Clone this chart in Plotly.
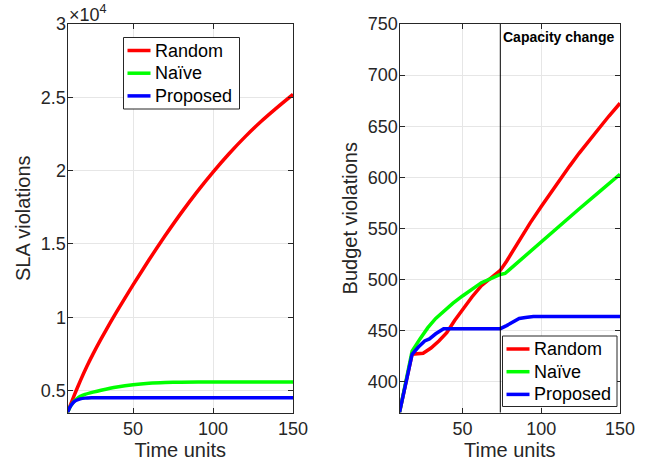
import plotly.graph_objects as go

# ---------------- data ----------------
series_names = ["Random", "Naïve", "Proposed"]
series_colors = ["#ff0000", "#00ff00", "#0000ff"]

# Left: SLA violations
sla_random_x = [9, 13, 17, 21, 25, 30, 36, 43, 50, 60, 70, 80, 90, 100, 110, 120, 130, 140, 150]
sla_random_y = [3500, 4620, 5660, 6620, 7500, 8520, 9680, 10960, 12200, 13920, 15550, 17100,
                18550, 19900, 21150, 22300, 23350, 24300, 25200]
sla_naive_x = [9, 11, 13, 15, 17, 20, 25, 30, 40, 50, 60, 70, 80, 100, 150]
sla_naive_y = [3500, 3950, 4250, 4450, 4600, 4740, 4890, 5020, 5240, 5400, 5500, 5550, 5570, 5580, 5580]
sla_prop_x = [9, 10, 11, 12, 13, 15, 17, 20, 24, 30, 150]
sla_prop_y = [3500, 3750, 3950, 4100, 4220, 4350, 4430, 4480, 4505, 4510, 4510]

# Right: Budget violations
bud_random_x = [10, 18, 25, 30, 35, 40, 45, 50, 56, 62, 68, 74, 78, 82, 87, 93, 100, 106, 112,
                118, 124, 130, 137, 143, 150]
bud_random_y = [370, 427, 428, 433, 440, 448, 460, 471, 483, 494, 502, 509, 518, 528, 541, 555.5,
                571.5, 585, 598, 611, 623.5, 635.5, 648.5, 660, 672.5]
bud_naive_x = [10, 18, 23, 28, 33, 38, 44, 50, 56, 62, 68, 74, 77, 88, 100, 112, 124, 137, 150]
bud_naive_y = [370, 430, 442, 453, 462, 469, 477, 484, 491, 497, 501, 505, 506, 521, 537, 553,
               569, 586, 603]
bud_prop_x = [10, 18, 22, 26, 29, 33, 38, 74, 78, 82, 86, 90, 95, 150]
bud_prop_y = [370, 427, 434, 440, 442, 447, 452, 452, 455, 459, 462, 463, 464, 464]

capacity_change_x = 74

x_ticks = [50, 100, 150]
sla_ticks = [5000, 10000, 15000, 20000, 25000, 30000]
sla_ticktext = ["0.5", "1", "1.5", "2", "2.5", "3"]
bud_ticks = [400, 450, 500, 550, 600, 650, 700, 750]

# ---------------- figure ----------------
W, H = 652, 467
FONT = "Liberation Sans, Arial, Helvetica, sans-serif"
AX = "#262626"

fig = go.Figure()

left = [(sla_random_x, sla_random_y), (sla_naive_x, sla_naive_y), (sla_prop_x, sla_prop_y)]
right = [(bud_random_x, bud_random_y), (bud_naive_x, bud_naive_y), (bud_prop_x, bud_prop_y)]

for (xs, ys), name, col in zip(left, series_names, series_colors):
    fig.add_trace(go.Scatter(x=xs, y=ys, mode="lines", name=name,
                             line=dict(color=col, width=3.5, shape="spline", smoothing=0.6),
                             xaxis="x", yaxis="y", showlegend=False))
for (xs, ys), name, col in zip(right, series_names, series_colors):
    fig.add_trace(go.Scatter(x=xs, y=ys, mode="lines", name=name,
                             line=dict(color=col, width=3.5),
                             xaxis="x2", yaxis="y2", showlegend=False))


def px(v):
    return v / W


def py(v):
    return 1 - v / H


axis_common = dict(
    showline=True, linecolor=AX, linewidth=1, mirror="ticks",
    ticks="inside", ticklen=5, tickcolor=AX, tickwidth=1,
    showgrid=True, gridcolor="#e6e6e6", gridwidth=1,
    zeroline=False, automargin=False,
    tickfont=dict(family=FONT, size=18, color=AX),
)

fig.update_layout(
    width=W, height=H,
    margin=dict(l=0, r=0, t=0, b=0),
    paper_bgcolor="white", plot_bgcolor="white",
    font=dict(family=FONT, color=AX),
    showlegend=False,
    xaxis=dict(domain=[px(67.5), px(293)], range=[9, 150], tickvals=x_ticks,
               title=dict(text="Time units", font=dict(size=20, color=AX), standoff=4),
               anchor="y", **axis_common),
    yaxis=dict(domain=[py(412.5), py(24)], range=[3500, 30000], tickvals=sla_ticks,
               ticktext=sla_ticktext, ticklabelstandoff=-3,
               title=dict(text="SLA violations", font=dict(size=20, color=AX), standoff=4),
               anchor="x", **axis_common),
    xaxis2=dict(domain=[px(399.5), px(620)], range=[10, 150], tickvals=x_ticks,
                title=dict(text="Time units", font=dict(size=20, color=AX), standoff=4),
                anchor="y2", **axis_common),
    yaxis2=dict(domain=[py(412.5), py(24)], range=[370, 750], tickvals=bud_ticks,
                ticklabelstandoff=-3,
                title=dict(text="Budget violations", font=dict(size=20, color=AX), standoff=4),
                anchor="x2", **axis_common),
    hovermode=False,
)

# capacity change marker
fig.add_shape(type="line", xref="x2", yref="y2 domain", x0=capacity_change_x, x1=capacity_change_x,
              y0=0, y1=1, line=dict(color="black", width=1))
fig.add_annotation(xref="x2", yref="y2 domain", x=capacity_change_x, y=1, xanchor="left",
                   yanchor="top", xshift=1, yshift=-3, showarrow=False,
                   text="<b>Capacity change</b>",
                   font=dict(family=FONT, size=14, color="black"))

# exponent label for left axis
fig.add_annotation(xref="paper", yref="paper", x=px(67), y=1, xanchor="left", yanchor="top",
                   showarrow=False, text="×10<sup>4</sup>",
                   font=dict(family=FONT, size=18, color=AX))


# legends (MATLAB style boxes)
def add_legend(box_left, box_top, box_right, box_bottom, line_x0, line_x1, text_x, row_ys):
    fig.add_shape(type="rect", xref="paper", yref="paper",
                  x0=px(box_left), x1=px(box_right), y0=py(box_bottom), y1=py(box_top),
                  line=dict(color=AX, width=1), fillcolor="white", layer="above")
    for name, col, ry in zip(series_names, series_colors, row_ys):
        fig.add_shape(type="line", xref="paper", yref="paper",
                      x0=px(line_x0), x1=px(line_x1), y0=py(ry), y1=py(ry),
                      line=dict(color=col, width=3.5), layer="above")
        fig.add_annotation(xref="paper", yref="paper", x=px(text_x), y=py(ry),
                           xanchor="left", yanchor="middle", showarrow=False, text=name,
                           font=dict(family=FONT, size=18, color="black"))


add_legend(123.5, 37.5, 239.5, 109, 127.5, 150.5, 153, [50.5, 73.2, 95.9])
add_legend(502.5, 336, 617, 406.5, 506.5, 529.5, 532, [349, 371.7, 394.4])

fig.write_html("out.html", config={"displayModeBar": False},
               post_script="document.body.style.margin='0';document.body.style.padding='0';")
